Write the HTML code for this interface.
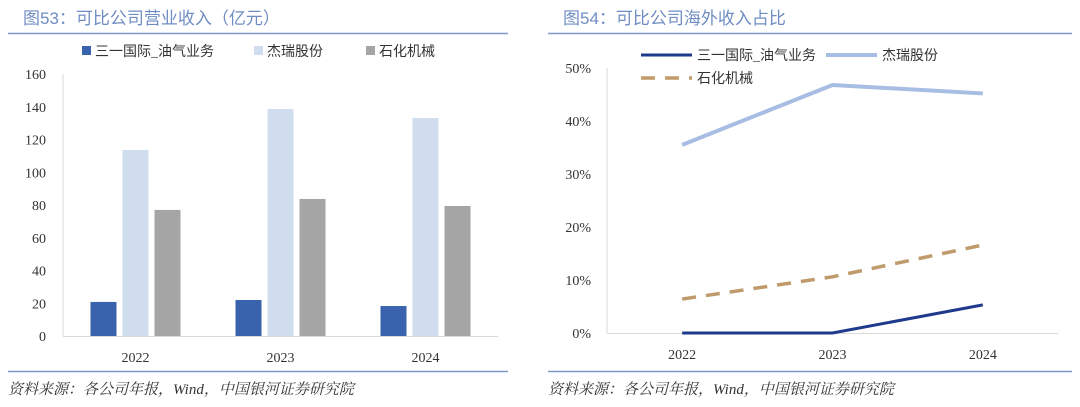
<!DOCTYPE html>
<html><head><meta charset="utf-8"><style>
body{margin:0;width:1080px;height:407px;background:#fff;overflow:hidden;font-family:"Liberation Serif","Noto Serif CJK SC",serif;}
svg{position:absolute;left:0;top:0}
</style></head><body>
<svg width="1080" height="407">
<g>
<text x="23" y="24" font-size="17" fill="#6F8DC3" font-family="Liberation Sans,Noto Sans CJK SC,sans-serif">图53：可比公司营业收入（亿元）</text>
<line x1="8" y1="33.5" x2="508" y2="33.5" stroke="#7F97C8" stroke-width="1.5"/>
</g>
<g>
<text x="563" y="24" font-size="17" fill="#6F8DC3" font-family="Liberation Sans,Noto Sans CJK SC,sans-serif">图54：可比公司海外收入占比</text>
<line x1="548" y1="33.5" x2="1072" y2="33.5" stroke="#7F97C8" stroke-width="1.5"/>
</g>
<line x1="8" y1="371.5" x2="508" y2="371.5" stroke="#7F97C8" stroke-width="1.5"/>
<line x1="548" y1="371.5" x2="1072" y2="371.5" stroke="#7F97C8" stroke-width="1.5"/>
<text x="8" y="394" font-size="15" font-style="italic" fill="#333">资料来源：各公司年报，Wind，中国银河证券研究院</text>
<text x="548" y="394" font-size="15" font-style="italic" fill="#333">资料来源：各公司年报，Wind，中国银河证券研究院</text>
<g id="left"></g>
<g id="right"></g>
</svg>
<script>
const categories=["2022","2023","2024"];
const sanyRev=[20.8,22,18.3];
const jerehRev=[113.6,138.6,133.1];
const shihuaRev=[77,83.7,79.4];
const revTicks=[0,20,40,60,80,100,120,140,160];
const seriesNames=["三一国际_油气业务","杰瑞股份","石化机械"];
const sanyShare=[0,0,5.3];
const jerehShare=[35.5,46.8,45.2];
const shihuaShare=[6.4,10.6,16.6];
const shareTicks=[0,10,20,30,40,50];
const NS="http://www.w3.org/2000/svg";
function mk(p,t,a,txt){const e=document.createElementNS(NS,t);for(const k in a)e.setAttribute(k,a[k]);if(txt!=null)e.textContent=txt;p.appendChild(e);return e;}
const F='Liberation Serif,Noto Sans CJK SC,serif';
// left
const L=document.getElementById('left');
const ly=v=>336-v*(262/160);
const lx0=63,lx1=498,lw=(lx1-lx0)/3;
revTicks.forEach(t=>{const e=mk(L,'text',{x:46,y:ly(t)+5,'text-anchor':'end','font-size':14,fill:'#333','font-family':F},t);

});
mk(L,'line',{x1:lx0,y1:74,x2:lx0,y2:336,stroke:'#d9d9d9'});
mk(L,'line',{x1:lx0,y1:336.5,x2:lx1,y2:336.5,stroke:'#d9d9d9'});
const cols=['#3A63AD','#D0DDEF','#A5A5A5'];
const series=[sanyRev,jerehRev,shihuaRev];
const bw=26,gap=6;
categories.forEach((c,i)=>{const cx=lx0+lw*(i+0.5);
const t=mk(L,'text',{x:cx,y:362,'text-anchor':'middle','font-size':14,fill:'#333','font-family':F},c);


series.forEach((s,j)=>{const x=cx-bw*1.5-gap+j*(bw+gap);
const r=mk(L,'rect',{x:x,y:ly(s[i]),width:bw,height:336-ly(s[i]),fill:cols[j]});

});});
const lgx=[82,254,366];
seriesNames.forEach((n,j)=>{const g=mk(L,'g',{});


mk(g,'rect',{x:lgx[j],y:46,width:9,height:9,fill:cols[j]});
mk(g,'text',{x:lgx[j]+13,y:56,'font-size':14,fill:'#333','font-family':F},n);});
// right
const R=document.getElementById('right');
const ry=v=>333-v*5.3;
const rx0=607,rx1=1058,rw=(rx1-rx0)/3;
const rx=i=>rx0+rw*(i+0.5);
shareTicks.forEach(t=>{const e=mk(R,'text',{x:591,y:ry(t)+5,'text-anchor':'end','font-size':14,fill:'#333','font-family':F},t+'%');

});
mk(R,'line',{x1:rx0,y1:68,x2:rx0,y2:333,stroke:'#d9d9d9'});
mk(R,'line',{x1:rx0,y1:333.5,x2:rx1,y2:333.5,stroke:'#d9d9d9'});
categories.forEach((c,i)=>{const t=mk(R,'text',{x:rx(i),y:359,'text-anchor':'middle','font-size':14,fill:'#333','font-family':F},c);

});
const lst=[{d:sanyShare,c:'#1F3A8C',w:3,da:''},{d:jerehShare,c:'#A8BDE3',w:4,da:''},{d:shihuaShare,c:'#BF9B6B',w:3.5,da:'14,10'}];
lst.forEach((s,j)=>{const p=mk(R,'polyline',{points:s.d.map((v,i)=>rx(i)+','+ry(v)).join(' '),fill:'none',stroke:s.c,'stroke-width':s.w,'stroke-dasharray':s.da});

});
const lgp=[[641,55],[826,55],[641,78]];
lst.forEach((s,j)=>{const g=mk(R,'g',{});


mk(g,'line',{x1:lgp[j][0],y1:lgp[j][1],x2:lgp[j][0]+51,y2:lgp[j][1],stroke:s.c,'stroke-width':s.w,'stroke-dasharray':s.da});
mk(g,'text',{x:lgp[j][0]+56,y:lgp[j][1]+5,'font-size':14,fill:'#333','font-family':F},seriesNames[j]);});
</script>
</body></html>
